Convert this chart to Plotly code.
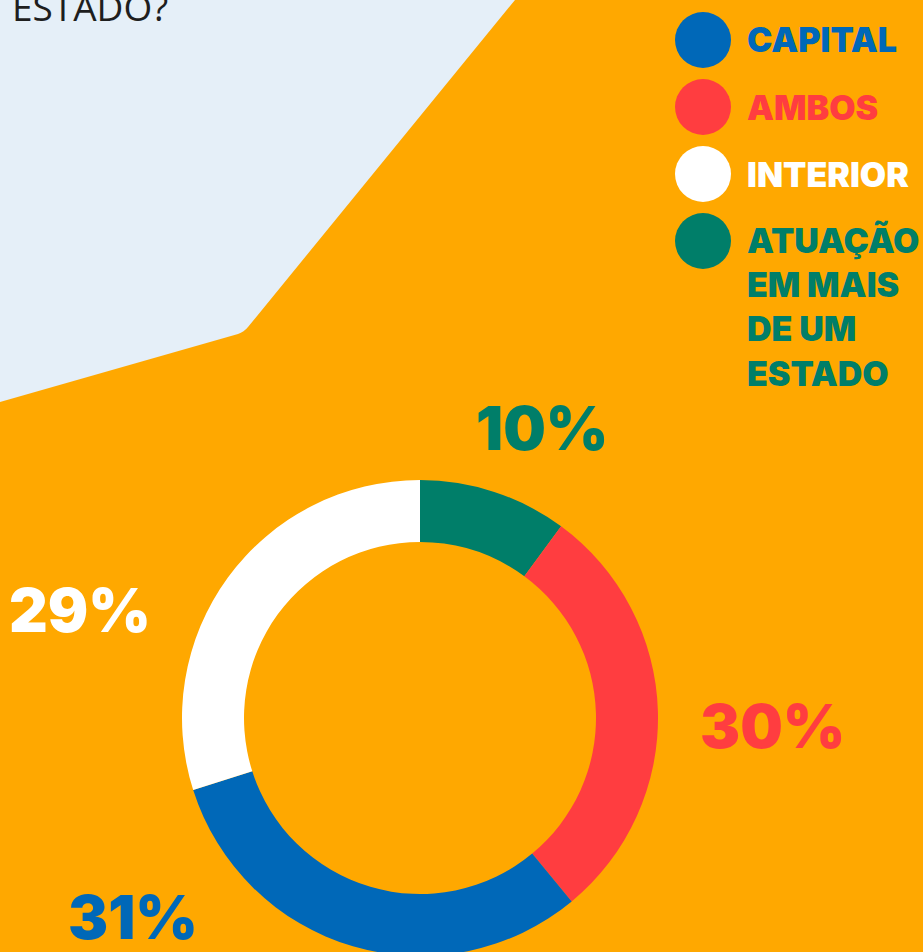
import plotly.graph_objects as go

W, H = 923, 960

# ---- data ----
categories = ["ATUAÇÃO EM MAIS DE UM ESTADO", "AMBOS", "CAPITAL", "INTERIOR"]
slice_values = [10.1, 28.9, 31.1, 29.9]          # slice sizes as drawn
label_texts = ["10%", "30%", "31%", "29%"]        # printed labels
slice_colors = ["#007E69", "#FF3D40", "#0068B8", "#FFFFFF"]

legend_labels = ["CAPITAL", "AMBOS", "INTERIOR", "ATUAÇÃO<br>EM MAIS<br>DE UM<br>ESTADO"]
legend_colors = ["#0068B8", "#FF3D40", "#FFFFFF", "#007E69"]

title_text = "ESTADO?"

ORANGE = "#FFA800"
LIGHT = "#E5EFF8"
BOLD = "Inter"

def px(x):
    return x / W

def py(y):
    return 1 - y / H

cx, cy, R = 420, 718, 238

fig = go.Figure()
fig.add_trace(go.Pie(
    labels=categories,
    values=slice_values,
    sort=False,
    direction="clockwise",
    rotation=0,
    hole=176 / 238,
    marker=dict(colors=slice_colors, line=dict(width=0)),
    textinfo="none",
    hoverinfo="label+percent",
    showlegend=False,
    domain=dict(x=[px(cx - R), px(cx + R)], y=[py(cy + R), py(cy - R)]),
))

# light blue background polygon
path = (f"M 0,1 L {px(515)},1 L {px(248)},{py(327)} "
        f"Q {px(244)},{py(332)} {px(238)},{py(334)} "
        f"L 0,{py(402)} Z")
shapes = [dict(type="path", path=path, xref="paper", yref="paper",
               fillcolor=LIGHT, line=dict(width=0), layer="below")]

annotations = []
# title fragment (cut off at top)
annotations.append(dict(text=title_text, x=px(10), y=py(24), xref="paper", yref="paper",
                        xanchor="left", yanchor="bottom", showarrow=False,
                        font=dict(family="Open Sans", size=37, color="#1E1E1E"),
                        yshift=-10))

# legend circles + texts
leg_y = [40, 107, 174, 241]
for lab, col, yy in zip(legend_labels, legend_colors, leg_y):
    shapes.append(dict(type="circle", xref="paper", yref="paper",
                       x0=px(675), x1=px(731), y0=py(yy + 28), y1=py(yy - 28),
                       fillcolor=col, line=dict(width=0)))
    multi = "<br>" in lab
    annotations.append(dict(text=lab, x=px(745), y=py(yy - 23) if multi else py(yy),
                            xref="paper", yref="paper", xanchor="left",
                            yanchor="top" if multi else "middle", align="left",
                            showarrow=False,
                            font=dict(family=BOLD, size=34, weight=900, color=col)))

# percentage labels
lab_pos = [(542, 428), (772, 726), (133, 917), (80, 610)]
for txt, col, (lx, ly) in zip(label_texts, slice_colors, lab_pos):
    annotations.append(dict(text=txt, x=px(lx), y=py(ly), xref="paper", yref="paper",
                            xanchor="center", yanchor="middle", showarrow=False,
                            font=dict(family=BOLD, size=60, weight=900, color=col)))

fig.update_layout(
    width=W, height=H,
    margin=dict(l=0, r=0, t=0, b=0),
    paper_bgcolor=ORANGE, plot_bgcolor=ORANGE,
    shapes=shapes, annotations=annotations,
)

fig.write_html("out.html", config={"displayModeBar": False},
               post_script="document.body.style.margin='0';document.body.style.overflow='hidden';")
